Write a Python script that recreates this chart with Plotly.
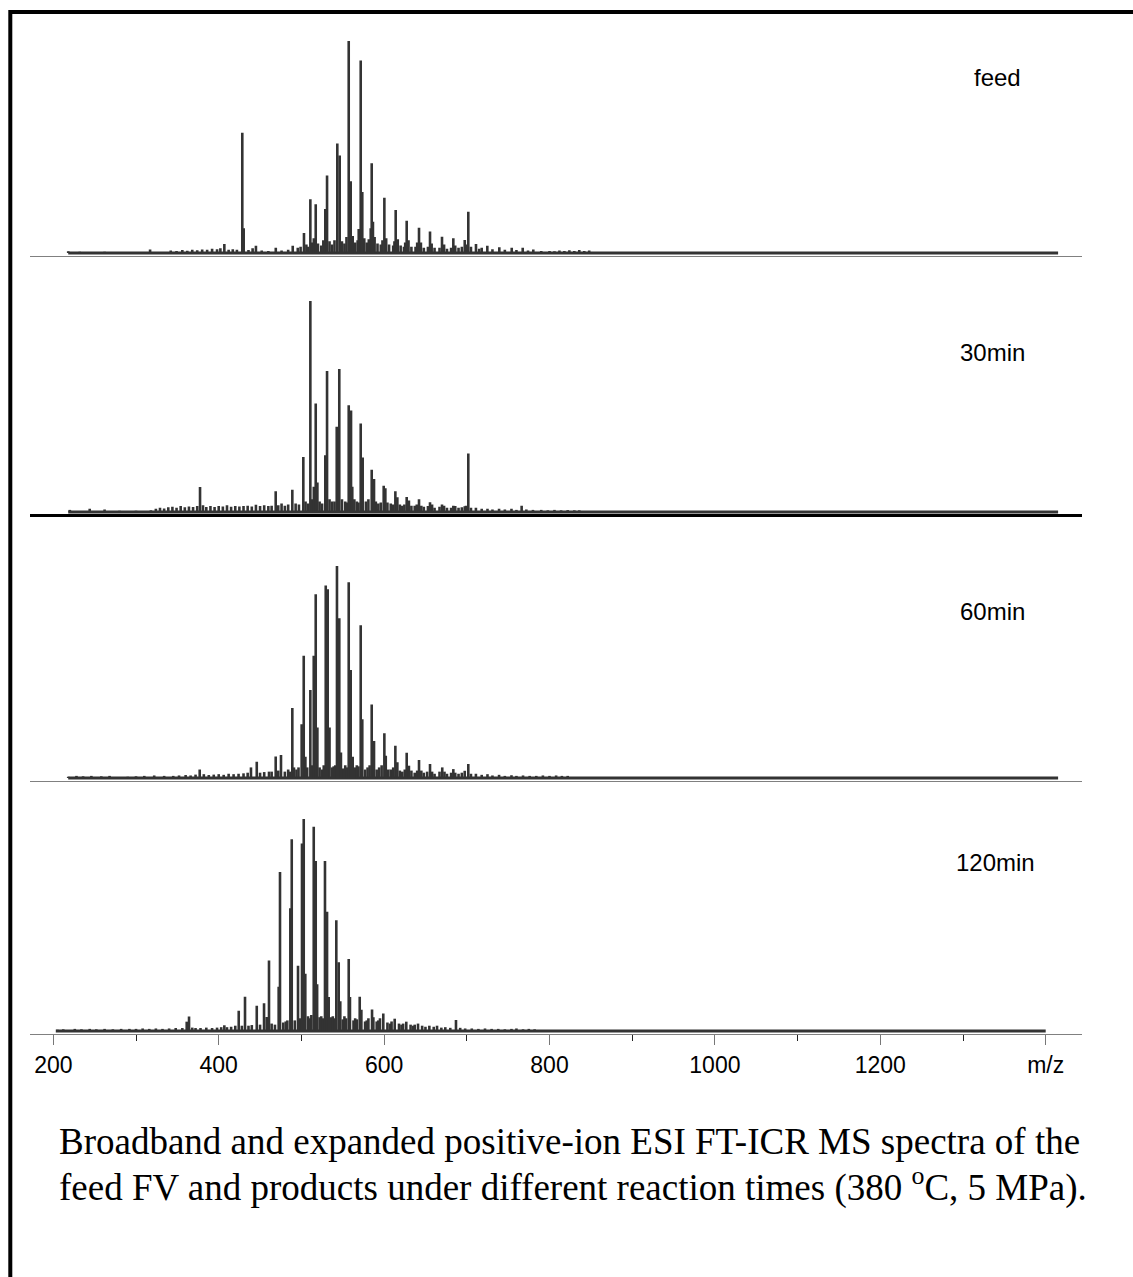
import plotly.graph_objects as go

W, H = 1133, 1277

# ---------------- data ----------------
x_tickvals = [200, 400, 600, 800, 1000, 1200, 1400]
x_ticktext = ["200", "400", "600", "800", "1000", "1200", "m/z"]
x_minor_vals = [300, 500, 700, 900, 1100, 1300]

panel_labels = ["feed", "30min", "60min", "120min"]
span_start = [218, 218, 218, 203]
span_end = [1415, 1415, 1415, 1400]

feed_mz = [406.8, 428.5, 430.2, 503.1, 510.8, 517.3, 528.9, 531.0, 543.4, 546.3, 557.2, 559.6,
           569.3, 571.7, 573.6, 583.8, 585.0, 586.5, 600.3, 614.0, 627.3, 642.2, 655.5, 670.0,
           683.7, 697.5, 701.8]
feed_int = [4.2, 56.7, 11.7, 9.4, 25.4, 23.0, 20.7, 36.6, 51.6, 46.0, 100, 33.9,
            11.3, 90.8, 28.8, 11.7, 42.3, 14.7, 26.1, 20.3, 15.2, 11.9, 10.2, 7.7,
            6.9, 6.1, 19.4]
feed_minor_mz = [218, 232, 248, 262, 290, 317, 342, 349, 356, 362, 368, 374, 380, 386, 392, 398,
                 402, 412, 417, 422, 436, 441, 445, 452, 460, 469, 476, 484, 489.5, 495.6, 499,
                 506, 508, 513, 515, 520, 524, 526.5, 534, 537, 540, 549, 552, 554.5, 562, 565,
                 568, 576, 579, 581.5, 588.5, 592, 596, 598, 602.5, 606, 611, 612.5, 616.5, 620,
                 624, 625.5, 629.5, 633, 638, 640, 644.5, 648, 653, 657.5, 661, 667, 672.5, 676,
                 681, 686, 690, 694, 700, 705, 711.1, 715, 718, 724.8, 731, 739.3, 746, 754.3,
                 760, 767.6, 774, 780.4, 790, 800, 806, 812, 818, 824, 830, 836, 842, 848]
feed_minor_int = [0.8, 0.6, 0.5, 0.6, 0.5, 1.6, 1.2, 1.0, 1.4, 1.1, 1.5, 1.3, 1.6, 1.5, 2.0, 1.8,
                  2.2, 1.5, 1.8, 1.5, 1.4, 2.2, 3.4, 1.2, 1.0, 2.5, 1.2, 1.5, 3.4, 2.5, 3.0,
                  4.0, 3.0, 5.0, 6.9, 4.5, 3.5, 6.0, 5.5, 4.0, 6.0, 5.5, 4.5, 7.5, 8.0, 5.0,
                  6.0, 7.0, 5.0, 6.5, 7.5, 4.5, 4.0, 6.0, 7.0, 4.0, 3.5, 5.5, 6.5, 3.5,
                  3.0, 5.0, 6.0, 3.0, 3.0, 5.0, 5.0, 2.5, 3.0, 4.5, 2.5, 2.5, 4.0, 2.0,
                  2.5, 3.5, 2.5, 3.0, 4.0, 3.0, 4.2, 2.0, 2.5, 3.4, 1.8, 2.7, 1.5, 2.5,
                  1.4, 2.5, 1.2, 1.7, 1.0, 1.0, 0.8, 1.2, 0.9, 1.3, 1.0, 1.4, 1.0, 1.2]

min30_mz = [377.4, 468.9, 489.0, 502.3, 510.8, 515.0, 517.3, 519.3, 528.9, 531.0, 542.7, 545.8,
            557.2, 560.0, 561.5, 571.7, 574.1, 585.0, 587.8, 599.5, 601.5, 613.6, 616.0, 627.3,
            630.0, 642.2, 655.5, 670.0, 683.7, 697.5, 701.8, 766.3]
min30_int = [11.8, 9.8, 10.5, 26.1, 100, 12.0, 51.4, 14.0, 26.9, 66.8, 40.4, 67.8,
             50.6, 48.1, 12.0, 42.0, 25.8, 20.0, 15.6, 12.4, 11.2, 9.8, 7.0, 7.1,
             5.5, 6.1, 4.6, 3.6, 3.0, 2.7, 27.7, 3.0]
min30_minor_mz = [220, 244, 262, 280, 300, 318, 324, 329, 334, 339, 344, 349, 354, 359, 364, 369,
                  374, 381, 385, 390, 395, 400, 405, 410, 415, 420, 425, 430, 435, 440, 445, 450,
                  455, 460, 464, 472, 476, 480, 484, 493, 497, 505, 508, 513, 522, 525, 534, 537,
                  540, 549, 553, 555, 564, 567, 569, 578, 581, 590, 593, 596, 604, 608, 611, 619,
                  622, 624.5, 633, 637, 639.5, 645, 648, 653, 658, 661, 667, 672.5, 676, 681, 686,
                  690, 694, 699, 705, 711, 718, 725, 731, 739, 746, 754, 760, 772, 780, 790, 798,
                  806, 814, 822, 830, 836]
min30_minor_int = [1.0, 1.5, 1.2, 0.6, 0.6, 0.8, 1.5, 2.0, 1.6, 2.2, 2.5, 2.0, 2.8, 2.2, 2.6, 2.4,
                   2.8, 3.2, 2.4, 2.8, 2.4, 2.8, 2.6, 3.2, 2.5, 2.8, 2.6, 2.8, 3.0, 2.6, 3.4, 2.8,
                   3.2, 2.8, 3.0, 3.2, 4.0, 3.0, 3.5, 4.0, 3.5, 5.0, 4.0, 6.0, 5.0, 4.0, 6.0, 5.0,
                   5.0, 6.0, 5.0, 4.5, 6.0, 5.0, 4.5, 5.0, 6.0, 5.0, 4.0, 4.5, 4.5, 4.0, 3.5, 3.5,
                   3.0, 3.5, 3.0, 3.0, 3.5, 3.0, 2.5, 2.8, 3.5, 2.0, 2.5, 3.0, 2.0, 2.0, 2.8,
                   2.0, 2.2, 3.0, 2.0, 2.0, 1.5, 1.5, 1.2, 1.5, 1.2, 1.5, 1.0, 1.2, 1.0, 1.0, 0.8,
                   1.0, 0.8, 0.9, 0.8, 0.8]

min60_mz = [377, 439, 446, 460.8, 468.9, 475.3, 489.0, 491, 500.3, 502.8, 504.8, 510.8, 514.9,
            517.3, 519.3, 529.4, 531.8, 534.0, 543.0, 545.8, 547.8, 557.2, 559.6, 562.0, 571.7,
            573.6, 585.0, 587.8, 600.3, 602.0, 613.6, 616.0, 627.3, 630.0, 642.2, 655.5, 670.3,
            683.7, 697.5, 701.8]
min60_int = [4.0, 5.0, 7.7, 3.0, 10.2, 10.8, 33.0, 5.0, 25.4, 57.7, 10.0, 41.5, 57.7,
             86.7, 23.8, 90.8, 89.0, 23.8, 100, 75.4, 12.0, 92.3, 50.9, 10.0, 72.0,
             27.7, 34.7, 17.5, 21.1, 10.5, 15.2, 7.4, 11.9, 5.8, 8.5, 6.6, 5.0,
             4.2, 3.4, 6.6]
min60_minor_mz = [218, 228, 236, 246, 258, 268, 290, 300, 310, 322, 334, 345, 352, 360, 366, 372,
                  382, 388, 394, 400, 406, 412, 418, 424, 430, 435, 450, 455, 464, 472, 480, 484,
                  486, 494, 496.5, 507, 512.5, 522, 525, 527, 537, 539, 541, 550, 553, 555, 565,
                  567, 569, 577, 580, 582.5, 591, 594, 597, 605, 608, 611, 619, 622, 625, 633,
                  637, 640, 645, 648, 652, 658, 661, 667, 673, 676, 681, 686, 690, 694, 705, 711,
                  718, 725, 731, 739, 746, 754, 760, 768, 776, 784, 792, 800, 808, 815, 822]
min60_minor_int = [0.6, 1.0, 0.8, 1.0, 0.8, 1.0, 0.6, 0.8, 1.0, 1.2, 1.0, 1.0, 1.2, 1.4, 1.2, 1.6,
                   1.8, 1.4, 1.6, 1.8, 1.5, 2.0, 1.8, 2.0, 2.2, 2.5, 2.5, 2.8, 3.0, 3.5, 3.0, 4.0,
                   3.0, 4.0, 5.0, 5.0, 6.0, 5.0, 4.0, 6.0, 5.0, 5.5, 6.0, 4.5, 6.0, 5.0, 5.0,
                   6.0, 5.5, 4.0, 5.0, 6.0, 4.0, 5.0, 6.0, 4.0, 4.0, 5.0, 3.5, 3.0, 4.0, 3.5,
                   2.5, 3.5, 3.5, 2.5, 3.0, 3.0, 2.0, 3.0, 3.0, 2.0, 2.5, 2.5, 2.0, 2.5, 2.0, 2.0,
                   1.5, 1.8, 1.2, 1.5, 1.0, 1.3, 1.0, 1.2, 1.0, 1.0, 1.2, 1.0, 1.2, 1.0, 1.0]

min120_mz = [361.3, 364.1, 406.8, 424.2, 431.8, 446.0, 454.8, 458.0, 460.8, 472.5, 474.1, 486.6,
             488.3, 495.9, 500.7, 502.8, 504.7, 514.9, 517.3, 519.0, 528.5, 531.0, 533.0, 542.2,
             545.1, 547.0, 557.2, 558.7, 570.5, 572.5, 585.4, 587.0, 599.0, 612.8, 626.8, 641.0,
             654.7, 669.2, 686.9]
min120_int = [4.4, 6.8, 2.7, 9.6, 16.2, 11.9, 13.1, 6.6, 33.3, 20.9, 75.0, 57.9,
              90.4, 30.8, 88.5, 100, 27.0, 96.4, 80.2, 22.0, 80.2, 56.3, 16.0, 52.2,
              32.4, 14.0, 34.0, 16.0, 16.2, 10.0, 10.2, 6.5, 8.3, 5.8, 4.4, 3.5,
              2.5, 1.6, 5.2]
min120_minor_mz = [205, 212, 226, 234, 244, 252, 262, 272, 282, 292, 300, 308, 316, 324, 332, 340,
                   348, 356, 368, 372, 378, 385, 392, 398, 403, 410, 415, 420, 428, 436, 440, 450,
                   464, 468, 478, 481, 483, 492, 498, 508, 510, 512, 522, 524, 526, 536, 538, 540,
                   550, 552, 554, 563, 565, 567, 577, 579, 581, 591, 593, 595, 604, 607, 609, 618,
                   621, 623, 632, 635, 637, 646, 650, 660, 664, 674, 680, 692, 698, 706, 714, 722,
                   730, 738, 746, 754, 760, 768, 775, 782]
min120_minor_int = [0.6, 0.8, 1.0, 0.8, 1.0, 0.8, 1.0, 0.8, 1.0, 1.0, 1.0, 1.2, 1.0, 1.2, 1.0, 1.2,
                    1.4, 1.4, 1.6, 1.4, 1.4, 1.6, 1.4, 1.6, 1.8, 1.8, 2.0, 2.5, 2.5, 2.5, 2.8, 3.0,
                    3.5, 3.0, 4.0, 4.5, 5.0, 5.0, 6.0, 7.0, 6.0, 7.5, 6.5, 7.0, 6.0, 6.5, 7.0, 6.0,
                    5.5, 7.0, 6.0, 5.0, 6.0, 5.5, 4.5, 5.0, 6.0, 4.5, 5.0, 6.0, 4.0, 3.5, 4.5, 3.5,
                    3.0, 3.5, 3.0, 2.5, 3.0, 2.5, 2.0, 2.0, 2.5, 1.8, 1.5, 1.5, 1.2, 1.2, 1.0, 1.2,
                    1.0, 1.0, 0.8, 1.0, 1.2, 0.8, 1.0, 0.8]

caption_lines = [
    "Broadband and expanded positive-ion ESI FT-ICR MS spectra of the",
    "feed FV and products under different reaction times (380 <sup>o</sup>C, 5 MPa).",
]

# ---------------- geometry / style ----------------
MZ_RANGE = [171.8, 1443.9]
X_DOMAIN = [30 / W, 1082 / W]
# (axis line px, zero px, 100% px) for each panel
panel_px = [(256, 253, 41), (514, 512, 301), (781, 778, 566), (1034, 1031, 819)]
label_pos = [(997, 78), (992, 352), (992, 611), (995, 862)]
caption_y = [1141, 1185]
INK = "#333333"

panels = [
    (feed_mz, feed_int, feed_minor_mz, feed_minor_int),
    (min30_mz, min30_int, min30_minor_mz, min30_minor_int),
    (min60_mz, min60_int, min60_minor_mz, min60_minor_int),
    (min120_mz, min120_int, min120_minor_mz, min120_minor_int),
]


def sticks(mz, inten):
    xs, ys = [], []
    for m, v in zip(mz, inten):
        xs += [m, m, None]
        ys += [0, v, None]
    return xs, ys


fig = go.Figure()
layout = dict(
    width=W, height=H, margin=dict(l=0, r=0, t=0, b=0),
    paper_bgcolor="white", plot_bgcolor="rgba(0,0,0,0)", showlegend=False,
)

for k, (mz, it, mmz, mit) in enumerate(panels):
    n = k + 1
    xa = "x" if n == 1 else f"x{n}"
    ya = "y" if n == 1 else f"y{n}"
    a, b, t = panel_px[k]
    ppu = (b - t) / 100.0
    pad = 3
    ymin = -(a - b) / ppu
    ymax = 100 + pad
    dom = [1 - a / H, 1 - (t - pad * ppu) / H]

    fig.add_trace(go.Scatter(x=[span_start[k], span_end[k]], y=[0, 0], mode="lines",
                             line=dict(color=INK, width=3), xaxis=xa, yaxis=ya,
                             hoverinfo="skip"))
    sx, sy = sticks(mmz, mit)
    fig.add_trace(go.Scatter(x=sx, y=sy, mode="lines", line=dict(color=INK, width=2.6),
                             xaxis=xa, yaxis=ya, hoverinfo="skip"))
    sx, sy = sticks(mz, it)
    fig.add_trace(go.Scatter(x=sx, y=sy, mode="lines", line=dict(color=INK, width=2.6),
                             xaxis=xa, yaxis=ya, hoverinfo="skip"))

    xkey = "xaxis" if n == 1 else f"xaxis{n}"
    ykey = "yaxis" if n == 1 else f"yaxis{n}"
    xdict = dict(domain=X_DOMAIN, range=MZ_RANGE, anchor=ya, showgrid=False, zeroline=False,
                 showline=True, linecolor="#808080", linewidth=1, showticklabels=False,
                 ticks="", fixedrange=True)
    if n == 2:
        xdict.update(linecolor="#000000", linewidth=2.5)
    if n == 4:
        xdict.update(showticklabels=True, ticks="outside", ticklen=10, tickwidth=1,
                     tickcolor="#777777", tickmode="array", tickvals=x_tickvals,
                     ticktext=x_ticktext,
                     tickfont=dict(family="Liberation Sans, Arial", size=23, color="black"),
                     minor=dict(tickmode="array", tickvals=x_minor_vals, ticks="outside",
                                ticklen=6, tickwidth=1, tickcolor="#222222"))
    layout[xkey] = xdict
    layout[ykey] = dict(domain=dom, range=[ymin, ymax], anchor=xa, visible=False,
                        fixedrange=True)

annotations = []
for k, lab in enumerate(panel_labels):
    px, py = label_pos[k]
    annotations.append(dict(text=lab, xref="paper", yref="paper", x=px / W, y=1 - py / H,
                            xanchor="center", yanchor="middle", showarrow=False,
                            font=dict(family="Liberation Sans, Arial", size=24, color="black")))
for i, line in enumerate(caption_lines):
    annotations.append(dict(text=line, xref="paper", yref="paper", x=57 / W,
                            y=1 - caption_y[i] / H, xanchor="left", yanchor="middle",
                            showarrow=False,
                            font=dict(family="Liberation Serif, Times New Roman", size=37,
                                      color="black")))
layout["annotations"] = annotations
layout["shapes"] = [dict(type="rect", xref="paper", yref="paper",
                         x0=10.3 / W, x1=1.05, y0=-0.05, y1=1 - 12 / H,
                         line=dict(color="black", width=4), fillcolor="rgba(0,0,0,0)")]

fig.update_layout(**layout)
fig.write_html("out.html")
